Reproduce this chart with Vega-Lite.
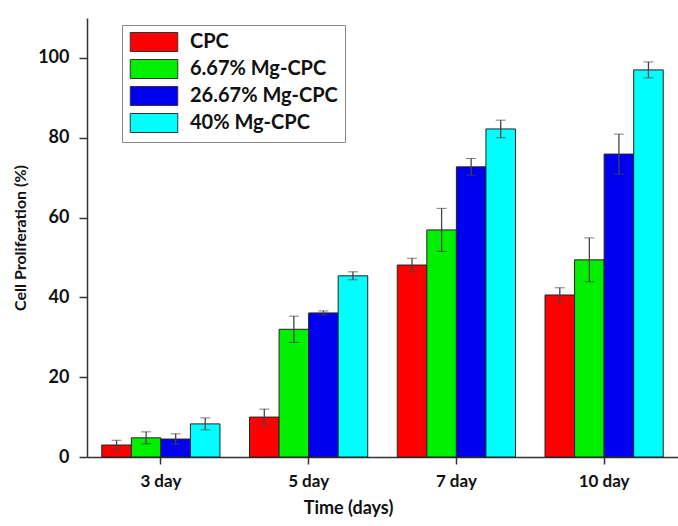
{
  "$schema": "https://vega.github.io/schema/vega-lite/v6.json",
  "width": 591,
  "height": 439,
  "autosize": "none",
  "padding": {"left": 87, "top": 18, "right": 0, "bottom": 69},
  "background": "white",
  "config": {
    "font": "Lato",
    "view": {"stroke": null}
  },
  "data": {
    "values": [
      {"day": "3 day", "group": "CPC", "value": 3.0, "err": 1.2},
      {"day": "3 day", "group": "6.67% Mg-CPC", "value": 4.8, "err": 1.5},
      {"day": "3 day", "group": "26.67% Mg-CPC", "value": 4.5, "err": 1.3},
      {"day": "3 day", "group": "40% Mg-CPC", "value": 8.3, "err": 1.5},
      {"day": "5 day", "group": "CPC", "value": 10.0, "err": 2.0},
      {"day": "5 day", "group": "6.67% Mg-CPC", "value": 32.0, "err": 3.3},
      {"day": "5 day", "group": "26.67% Mg-CPC", "value": 36.1, "err": 0.5},
      {"day": "5 day", "group": "40% Mg-CPC", "value": 45.4, "err": 1.0},
      {"day": "7 day", "group": "CPC", "value": 48.1, "err": 1.7},
      {"day": "7 day", "group": "6.67% Mg-CPC", "value": 56.9, "err": 5.4},
      {"day": "7 day", "group": "26.67% Mg-CPC", "value": 72.7, "err": 2.1},
      {"day": "7 day", "group": "40% Mg-CPC", "value": 82.2, "err": 2.2},
      {"day": "10 day", "group": "CPC", "value": 40.6, "err": 1.8},
      {"day": "10 day", "group": "6.67% Mg-CPC", "value": 49.4, "err": 5.5},
      {"day": "10 day", "group": "26.67% Mg-CPC", "value": 75.9, "err": 5.0},
      {"day": "10 day", "group": "40% Mg-CPC", "value": 97.0, "err": 2.0}
    ]
  },
  "encoding": {
    "x": {
      "field": "day",
      "type": "nominal",
      "sort": ["3 day", "5 day", "7 day", "10 day"],
      "scale": {"paddingInner": 0.2, "paddingOuter": 0.1},
      "axis": {
        "title": "Time (days)",
        "titleFont": "Lato",
        "titleFontSize": 18,
        "titleFontWeight": "bold",
        "titleColor": "#111",
        "titlePadding": 10,
        "titleX": 261,
        "labelFont": "Lato",
        "labelFontSize": 17,
        "labelFontWeight": "bold",
        "labelColor": "#111",
        "labelAngle": 0,
        "labelPadding": 9,
        "tickSize": 7,
        "tickColor": "#333",
        "tickWidth": 1.5,
        "domainColor": "#333",
        "domainWidth": 1.5
      }
    },
    "xOffset": {
      "field": "group",
      "type": "nominal",
      "sort": ["CPC", "6.67% Mg-CPC", "26.67% Mg-CPC", "40% Mg-CPC"],
      "scale": {"paddingInner": 0, "paddingOuter": 0}
    }
  },
  "layer": [
    {
      "mark": {"type": "bar", "stroke": "#222", "strokeWidth": 1},
      "encoding": {
        "y": {
          "field": "value",
          "type": "quantitative",
          "title": "Cell Proliferation (%)",
          "scale": {"domain": [0, 110], "nice": false},
          "axis": {
            "titleFont": "Lato",
            "titleFontSize": 16,
            "titleFontWeight": "bold",
            "titleColor": "#111",
            "titlePadding": 9,
            "labelFont": "Lato",
            "labelFontSize": 18,
            "labelFontWeight": "bold",
            "labelColor": "#111",
            "labelPadding": 10,
            "values": [0, 20, 40, 60, 80, 100],
            "tickSize": 8,
            "tickColor": "#333",
            "tickWidth": 1.5,
            "domainColor": "#333",
            "domainWidth": 1.5,
            "grid": false,
            "ticks": true
          }
        },
        "color": {
          "field": "group",
          "type": "nominal",
          "sort": ["CPC", "6.67% Mg-CPC", "26.67% Mg-CPC", "40% Mg-CPC"],
          "scale": {
            "domain": ["CPC", "6.67% Mg-CPC", "26.67% Mg-CPC", "40% Mg-CPC"],
            "range": ["#ff0000", "#00f000", "#0000f0", "#00ffff"]
          },
          "legend": {
            "title": null,
            "orient": "none",
            "legendX": 35,
            "legendY": 7,
            "padding": 7,
            "strokeColor": "#888",
            "fillColor": "white",
            "symbolType": "M-2.5,-1H2.5V1H-2.5Z",
            "symbolSize": 361,
            "symbolOffset": 15,
            "symbolStrokeColor": "#333",
            "symbolStrokeWidth": 1,
            "symbolOpacity": 1,
            "labelFont": "Lato",
            "labelFontSize": 20,
            "labelFontWeight": "bold",
            "labelColor": "#111",
            "labelOffset": 26,
            "rowPadding": 3,
            "labelLimit": 300
          }
        }
      }
    },
    {
      "mark": {"type": "errorbar", "ticks": {"size": 10, "color": "#444", "strokeWidth": 1.3}, "rule": {"color": "#444", "strokeWidth": 1.3}},
      "encoding": {
        "y": {"field": "value", "type": "quantitative", "title": "Cell Proliferation (%)"},
        "yError": {"field": "err"}
      }
    }
  ]
}
